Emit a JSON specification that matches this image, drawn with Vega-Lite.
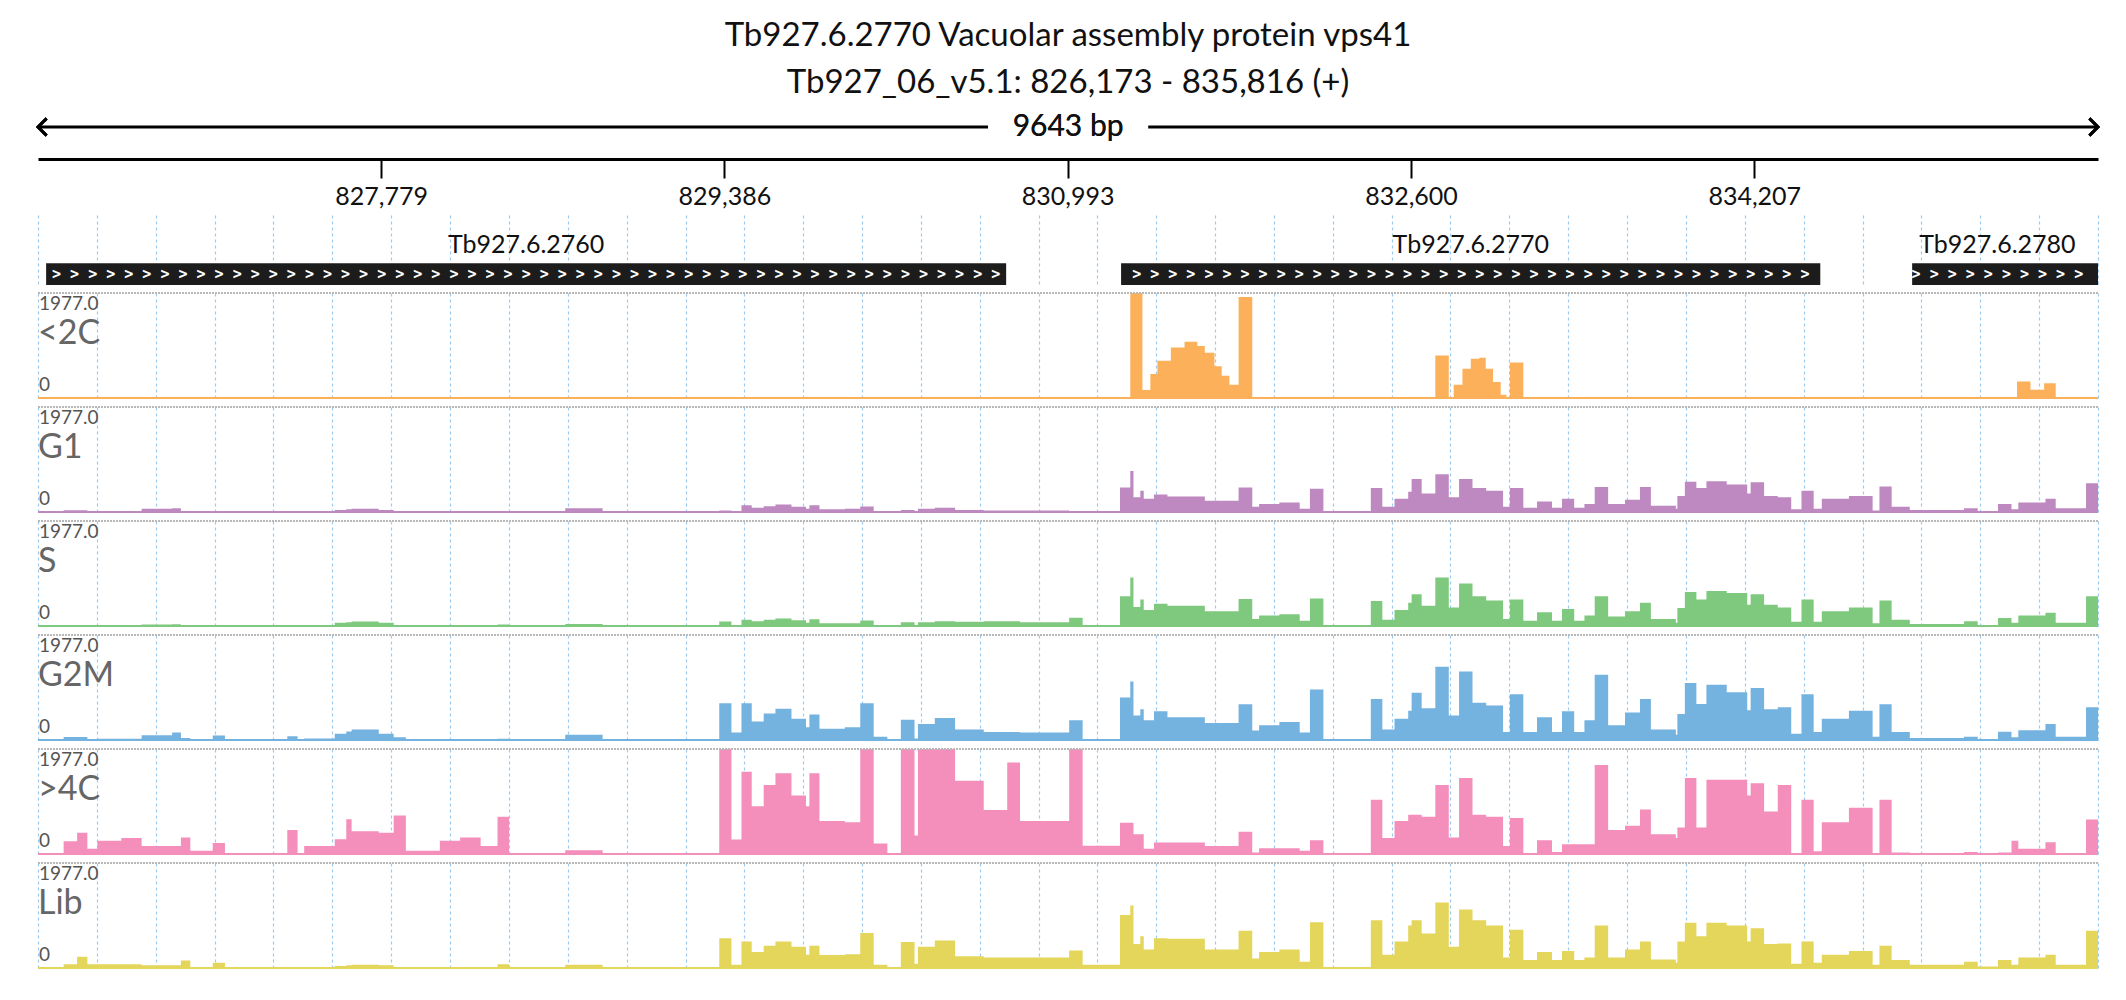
{
  "$schema": "https://vega.github.io/schema/vega-lite/v6.json",
  "background": "white",
  "padding": {"left": 32, "right": 34, "top": 20, "bottom": 10},
  "title": {
    "text": ["Tb927.6.2770  Vacuolar assembly protein vps41", "Tb927_06_v5.1: 826,173 - 835,816 (+)"],
    "fontSize": 33, "font": "Lato", "fontWeight": "normal", "color": "#111", "lineHeight": 47, "anchor": "middle", "offset": 12
  },
  "datasets": {
    "genes": [
      {"g": "Tb927.6.2760", "s": 826211, "e": 830705, "m": 828458, "chev": "> > > > > > > > > > > > > > > > > > > > > > > > > > > > > > > > > > > > > > > > > > > > > > > > > > > > >"},
      {"g": "Tb927.6.2770", "s": 831243, "e": 834516, "m": 832880, "chev": "> > > > > > > > > > > > > > > > > > > > > > > > > > > > > > > > > > > > > >"},
      {"g": "Tb927.6.2780", "s": 834946, "e": 835816, "m": 835345, "chev": "> > > > > > > > > >"}
    ],
    "cov": [
      {"t": "<2C", "lab": true}, {"t": "G1", "lab": true}, {"t": "S", "lab": true},
      {"t": "G2M", "lab": true}, {"t": ">4C", "lab": true}, {"t": "Lib", "lab": true},
      {"p": 826173, "<2C": 0}, {"p": 831286, "<2C": 1977}, {"p": 831343, "<2C": 150}, {"p": 831380, "<2C": 450},
      {"p": 831413, "<2C": 700}, {"p": 831476, "<2C": 950}, {"p": 831540, "<2C": 1060}, {"p": 831600, "<2C": 980},
      {"p": 831635, "<2C": 850}, {"p": 831680, "<2C": 600}, {"p": 831714, "<2C": 420}, {"p": 831750, "<2C": 250},
      {"p": 831778, "<2C": 250}, {"p": 831793, "<2C": 1900}, {"p": 831857, "<2C": 0}, {"p": 832714, "<2C": 800},
      {"p": 832777, "<2C": 0}, {"p": 832800, "<2C": 250}, {"p": 832841, "<2C": 550}, {"p": 832880, "<2C": 740},
      {"p": 832920, "<2C": 760}, {"p": 832950, "<2C": 550}, {"p": 832984, "<2C": 300}, {"p": 833020, "<2C": 60},
      {"p": 833047, "<2C": 0}, {"p": 833063, "<2C": 670}, {"p": 833126, "<2C": 0}, {"p": 835437, "<2C": 310},
      {"p": 835500, "<2C": 155}, {"p": 835564, "<2C": 280}, {"p": 835618, "<2C": 0}, {"p": 835816, "<2C": 0},
      {"p": 826173, "G1": 0, "S": 0, "G2M": 0, ">4C": 0, "Lib": 0},
      {"p": 826293, "G1": 35, "S": 10, "G2M": 55, ">4C": 240, "Lib": 70},
      {"p": 826356, "G1": 35, "S": 10, "G2M": 55, ">4C": 400, "Lib": 210},
      {"p": 826404, "G1": 10, "S": 10, "G2M": 20, ">4C": 100, "Lib": 70},
      {"p": 826451, "G1": 10, "S": 10, "G2M": 25, ">4C": 250, "Lib": 70},
      {"p": 826563, "G1": 10, "S": 10, "G2M": 25, ">4C": 300, "Lib": 70},
      {"p": 826658, "G1": 60, "S": 30, "G2M": 90, ">4C": 150, "Lib": 50},
      {"p": 826801, "G1": 70, "S": 35, "G2M": 140, ">4C": 150, "Lib": 50},
      {"p": 826842, "G1": 20, "S": 20, "G2M": 40, ">4C": 310, "Lib": 140},
      {"p": 826886, "G1": 5, "S": 5, "G2M": 10, ">4C": 60, "Lib": 20},
      {"p": 826991, "G1": 5, "S": 5, "G2M": 83, ">4C": 207, "Lib": 100},
      {"p": 827048, "G1": 0, "S": 0, "G2M": 5, ">4C": 0, "Lib": 5},
      {"p": 827340, "G1": 5, "S": 20, "G2M": 70, ">4C": 450, "Lib": 15},
      {"p": 827388, "G1": 0, "S": 0, "G2M": 5, ">4C": 0, "Lib": 5},
      {"p": 827419, "G1": 10, "S": 20, "G2M": 30, ">4C": 150, "Lib": 20},
      {"p": 827562, "G1": 40, "S": 60, "G2M": 120, ">4C": 280, "Lib": 40},
      {"p": 827616, "G1": 50, "S": 70, "G2M": 160, ">4C": 655, "Lib": 50},
      {"p": 827641, "G1": 60, "S": 85, "G2M": 200, ">4C": 430, "Lib": 60},
      {"p": 827768, "G1": 40, "S": 60, "G2M": 120, ">4C": 400, "Lib": 50},
      {"p": 827838, "G1": 10, "S": 20, "G2M": 50, ">4C": 725, "Lib": 20},
      {"p": 827895, "G1": 5, "S": 10, "G2M": 5, ">4C": 60, "Lib": 10},
      {"p": 828054, "G1": 10, "S": 15, "G2M": 10, ">4C": 250, "Lib": 15},
      {"p": 828149, "G1": 10, "S": 15, "G2M": 10, ">4C": 310, "Lib": 15},
      {"p": 828245, "G1": 5, "S": 10, "G2M": 5, ">4C": 150, "Lib": 10},
      {"p": 828324, "G1": 20, "S": 30, "G2M": 25, ">4C": 700, "Lib": 70},
      {"p": 828378, "G1": 0, "S": 0, "G2M": 5, ">4C": 0, "Lib": 5},
      {"p": 828641, "G1": 70, "S": 40, "G2M": 100, ">4C": 70, "Lib": 60},
      {"p": 828816, "G1": 10, "S": 5, "G2M": 10, ">4C": 5, "Lib": 10},
      {"p": 829070, "G1": 0, "S": 0, "G2M": 0, ">4C": 0, "Lib": 0},
      {"p": 829362, "G1": 30, "S": 85, "G2M": 690, ">4C": 1977, "Lib": 560},
      {"p": 829419, "G1": 10, "S": 20, "G2M": 140, ">4C": 275, "Lib": 60},
      {"p": 829466, "G1": 125, "S": 120, "G2M": 690, ">4C": 1550, "Lib": 500},
      {"p": 829514, "G1": 80, "S": 90, "G2M": 350, ">4C": 900, "Lib": 300},
      {"p": 829570, "G1": 110, "S": 120, "G2M": 500, ">4C": 1300, "Lib": 420},
      {"p": 829625, "G1": 140, "S": 140, "G2M": 590, ">4C": 1520, "Lib": 500},
      {"p": 829700, "G1": 100, "S": 110, "G2M": 400, ">4C": 1100, "Lib": 400},
      {"p": 829768, "G1": 60, "S": 60, "G2M": 240, ">4C": 900, "Lib": 250},
      {"p": 829784, "G1": 125, "S": 125, "G2M": 480, ">4C": 1520, "Lib": 420},
      {"p": 829831, "G1": 50, "S": 50, "G2M": 210, ">4C": 620, "Lib": 245},
      {"p": 829950, "G1": 60, "S": 50, "G2M": 240, ">4C": 600, "Lib": 260},
      {"p": 830022, "G1": 105, "S": 105, "G2M": 690, ">4C": 1977, "Lib": 660},
      {"p": 830085, "G1": 10, "S": 10, "G2M": 60, ">4C": 200, "Lib": 60},
      {"p": 830149, "G1": 0, "S": 0, "G2M": 0, ">4C": 0, "Lib": 0},
      {"p": 830212, "G1": 40, "S": 70, "G2M": 380, ">4C": 1977, "Lib": 490},
      {"p": 830276, "G1": 10, "S": 20, "G2M": 30, ">4C": 350, "Lib": 80},
      {"p": 830292, "G1": 60, "S": 70, "G2M": 300, ">4C": 1977, "Lib": 400},
      {"p": 830371, "G1": 80, "S": 90, "G2M": 415, ">4C": 1977, "Lib": 520},
      {"p": 830466, "G1": 40, "S": 80, "G2M": 200, ">4C": 1380, "Lib": 220},
      {"p": 830600, "G1": 30, "S": 90, "G2M": 150, ">4C": 830, "Lib": 200},
      {"p": 830710, "G1": 30, "S": 90, "G2M": 150, ">4C": 1725, "Lib": 200},
      {"p": 830770, "G1": 30, "S": 70, "G2M": 140, ">4C": 620, "Lib": 200},
      {"p": 831000, "G1": 5, "S": 155, "G2M": 370, ">4C": 1977, "Lib": 330},
      {"p": 831063, "G1": 10, "S": 20, "G2M": 10, ">4C": 155, "Lib": 60},
      {"p": 831238, "G1": 460, "S": 560, "G2M": 800, ">4C": 590, "Lib": 1000},
      {"p": 831286, "G1": 770, "S": 915, "G2M": 1100, ">4C": 590, "Lib": 1175},
      {"p": 831301, "G1": 280, "S": 360, "G2M": 460, ">4C": 370, "Lib": 450},
      {"p": 831333, "G1": 400, "S": 500, "G2M": 580, ">4C": 370, "Lib": 600},
      {"p": 831349, "G1": 250, "S": 300, "G2M": 370, ">4C": 100, "Lib": 350},
      {"p": 831397, "G1": 330, "S": 420, "G2M": 540, ">4C": 215, "Lib": 560},
      {"p": 831460, "G1": 290, "S": 380, "G2M": 430, ">4C": 215, "Lib": 550},
      {"p": 831635, "G1": 210, "S": 280, "G2M": 320, ">4C": 150, "Lib": 350},
      {"p": 831793, "G1": 460, "S": 510, "G2M": 675, ">4C": 420, "Lib": 700},
      {"p": 831857, "G1": 100, "S": 130, "G2M": 180, ">4C": 30, "Lib": 180},
      {"p": 831889, "G1": 150, "S": 200, "G2M": 280, ">4C": 110, "Lib": 300},
      {"p": 831984, "G1": 180, "S": 220, "G2M": 340, ">4C": 110, "Lib": 350},
      {"p": 832079, "G1": 60, "S": 100, "G2M": 140, ">4C": 60, "Lib": 120},
      {"p": 832127, "G1": 440, "S": 520, "G2M": 950, ">4C": 260, "Lib": 860},
      {"p": 832190, "G1": 0, "S": 0, "G2M": 0, ">4C": 0, "Lib": 0},
      {"p": 832412, "G1": 450, "S": 470, "G2M": 770, ">4C": 1020, "Lib": 900},
      {"p": 832466, "G1": 100, "S": 120, "G2M": 200, ">4C": 300, "Lib": 250},
      {"p": 832523, "G1": 250, "S": 300, "G2M": 400, ">4C": 620, "Lib": 500},
      {"p": 832587, "G1": 380, "S": 440, "G2M": 550, ">4C": 740, "Lib": 800},
      {"p": 832603, "G1": 620, "S": 600, "G2M": 890, ">4C": 740, "Lib": 900},
      {"p": 832650, "G1": 350, "S": 380, "G2M": 600, ">4C": 700, "Lib": 650},
      {"p": 832714, "G1": 710, "S": 915, "G2M": 1380, ">4C": 1300, "Lib": 1235},
      {"p": 832777, "G1": 280, "S": 350, "G2M": 460, ">4C": 310, "Lib": 400},
      {"p": 832825, "G1": 620, "S": 800, "G2M": 1290, ">4C": 1430, "Lib": 1100},
      {"p": 832888, "G1": 450, "S": 560, "G2M": 700, ">4C": 740, "Lib": 900},
      {"p": 832952, "G1": 400, "S": 480, "G2M": 650, ">4C": 700, "Lib": 800},
      {"p": 833031, "G1": 100, "S": 130, "G2M": 150, ">4C": 150, "Lib": 200},
      {"p": 833063, "G1": 450, "S": 500, "G2M": 860, ">4C": 680, "Lib": 720},
      {"p": 833126, "G1": 80, "S": 100, "G2M": 150, ">4C": 10, "Lib": 150},
      {"p": 833190, "G1": 200, "S": 260, "G2M": 430, ">4C": 260, "Lib": 300},
      {"p": 833260, "G1": 80, "S": 100, "G2M": 150, ">4C": 40, "Lib": 150},
      {"p": 833307, "G1": 250, "S": 320, "G2M": 540, ">4C": 185, "Lib": 320},
      {"p": 833364, "G1": 80, "S": 100, "G2M": 150, ">4C": 185, "Lib": 150},
      {"p": 833412, "G1": 150, "S": 200, "G2M": 370, ">4C": 185, "Lib": 200},
      {"p": 833460, "G1": 470, "S": 560, "G2M": 1230, ">4C": 1675, "Lib": 800},
      {"p": 833523, "G1": 150, "S": 180, "G2M": 280, ">4C": 450, "Lib": 200},
      {"p": 833602, "G1": 230, "S": 280, "G2M": 520, ">4C": 530, "Lib": 350},
      {"p": 833672, "G1": 470, "S": 440, "G2M": 770, ">4C": 840, "Lib": 500},
      {"p": 833723, "G1": 120, "S": 130, "G2M": 200, ">4C": 370, "Lib": 160},
      {"p": 833840, "G1": 60, "S": 60, "G2M": 100, ">4C": 300, "Lib": 100},
      {"p": 833847, "G1": 300, "S": 340, "G2M": 490, ">4C": 500, "Lib": 500},
      {"p": 833882, "G1": 570, "S": 640, "G2M": 1075, ">4C": 1430, "Lib": 850},
      {"p": 833936, "G1": 450, "S": 500, "G2M": 680, ">4C": 500, "Lib": 600},
      {"p": 833983, "G1": 580, "S": 660, "G2M": 1040, ">4C": 1400, "Lib": 850},
      {"p": 834078, "G1": 520, "S": 620, "G2M": 900, ">4C": 1400, "Lib": 800},
      {"p": 834174, "G1": 350, "S": 400, "G2M": 560, ">4C": 1100, "Lib": 500},
      {"p": 834190, "G1": 560, "S": 600, "G2M": 980, ">4C": 1330, "Lib": 750},
      {"p": 834253, "G1": 300, "S": 400, "G2M": 580, ">4C": 800, "Lib": 450},
      {"p": 834317, "G1": 280, "S": 350, "G2M": 615, ">4C": 1300, "Lib": 460},
      {"p": 834380, "G1": 50, "S": 80, "G2M": 120, ">4C": 0, "Lib": 80},
      {"p": 834428, "G1": 400, "S": 500, "G2M": 860, ">4C": 1020, "Lib": 500},
      {"p": 834485, "G1": 60, "S": 80, "G2M": 150, ">4C": 50, "Lib": 100},
      {"p": 834523, "G1": 250, "S": 280, "G2M": 400, ">4C": 600, "Lib": 250},
      {"p": 834650, "G1": 300, "S": 350, "G2M": 550, ">4C": 870, "Lib": 320},
      {"p": 834761, "G1": 30, "S": 50, "G2M": 60, ">4C": 0, "Lib": 60},
      {"p": 834793, "G1": 480, "S": 480, "G2M": 675, ">4C": 1020, "Lib": 420},
      {"p": 834850, "G1": 100, "S": 120, "G2M": 150, ">4C": 30, "Lib": 150},
      {"p": 834935, "G1": 40, "S": 40, "G2M": 37, ">4C": 20, "Lib": 60},
      {"p": 835189, "G1": 70, "S": 90, "G2M": 60, ">4C": 40, "Lib": 120},
      {"p": 835253, "G1": 20, "S": 20, "G2M": 20, ">4C": 10, "Lib": 30},
      {"p": 835348, "G1": 150, "S": 150, "G2M": 155, ">4C": 30, "Lib": 150},
      {"p": 835411, "G1": 50, "S": 60, "G2M": 50, ">4C": 250, "Lib": 60},
      {"p": 835443, "G1": 180, "S": 200, "G2M": 185, ">4C": 100, "Lib": 200},
      {"p": 835570, "G1": 250, "S": 250, "G2M": 300, ">4C": 220, "Lib": 250},
      {"p": 835618, "G1": 70, "S": 60, "G2M": 60, ">4C": 20, "Lib": 60},
      {"p": 835760, "G1": 540, "S": 560, "G2M": 615, ">4C": 650, "Lib": 700},
      {"p": 835816, "G1": 540, "S": 560, "G2M": 615, ">4C": 650, "Lib": 700}
    ]
  },
  "vconcat": [
    {
      "width": 2060,
      "height": 32,
      "data": {"values": [{"a": 826173, "b": 830620}, {"a": 831370, "b": 835816}]},
      "layer": [
        {
          "mark": {"type": "rule", "color": "black", "strokeWidth": 3},
          "encoding": {
            "x": {"field": "a", "type": "quantitative", "scale": {"domain": [826173, 835816], "nice": false, "zero": false},
              "axis": {"values": [827779, 829386, 830993, 832600, 834207], "format": ",d", "title": null, "grid": false,
                "domainColor": "black", "domainWidth": 3, "tickColor": "black", "tickWidth": 2, "tickSize": 19,
                "labelFontSize": 25, "labelFont": "Lato", "labelColor": "#111", "labelPadding": 6}},
            "x2": {"field": "b"},
            "y": {"datum": 1, "type": "quantitative", "scale": {"domain": [0, 1]}, "axis": null}
          }
        },
        {
          "mark": {"type": "text", "fontSize": 30, "font": "Lato", "fontWeight": "normal", "color": "#111"},
          "encoding": {"x": {"datum": 830995, "type": "quantitative"}, "y": {"datum": 1, "type": "quantitative"}, "text": {"value": "9643 bp"}}
        },
        {
          "mark": {"type": "point", "shape": "M1,-1L0,0L1,1", "filled": false, "stroke": "black", "strokeWidth": 3, "size": 300, "opacity": 1},
          "encoding": {"x": {"datum": 826173, "type": "quantitative"}, "y": {"datum": 1, "type": "quantitative"}}
        },
        {
          "mark": {"type": "point", "shape": "M-1,-1L0,0L-1,1", "filled": false, "stroke": "black", "strokeWidth": 3, "size": 300, "opacity": 1},
          "encoding": {"x": {"datum": 835816, "type": "quantitative"}, "y": {"datum": 1, "type": "quantitative"}}
        }
      ]
    },
    {
      "width": 2060,
      "height": 71,
      "data": {"name": "genes"},
      "layer": [
        {
          "mark": {"type": "rect", "color": "#1c1c1c"},
          "encoding": {
            "x": {"field": "s", "type": "quantitative", "scale": {"domain": [826173, 835816], "nice": false, "zero": false},
              "axis": {"values": [826173, 826449, 826724, 827000, 827275, 827551, 827826, 828102, 828377, 828653, 828928, 829204, 829479, 829755, 830030, 830306, 830581, 830857, 831132, 831408, 831683, 831959, 832234, 832510, 832785, 833061, 833336, 833612, 833887, 834163, 834438, 834714, 834989, 835265, 835540, 835816],
                "grid": true, "gridColor": "#9ccaf0", "gridDash": [3, 3], "gridWidth": 1.2, "labels": false, "ticks": false, "domain": false, "title": null}},
            "x2": {"field": "e"},
            "y": {"datum": 0.014, "type": "quantitative", "scale": {"domain": [0, 1]}, "axis": null},
            "y2": {"datum": 0.32}
          }
        },
        {
          "mark": {"type": "text", "font": "DejaVu Sans Mono", "fontSize": 15, "fontWeight": "bold", "color": "white"},
          "encoding": {"x": {"field": "m", "type": "quantitative"}, "y": {"datum": 0.17, "type": "quantitative"}, "text": {"field": "chev"}}
        },
        {
          "mark": {"type": "text", "font": "Lato", "fontSize": 25, "color": "#111"},
          "encoding": {"x": {"field": "m", "type": "quantitative"}, "y": {"datum": 0.58, "type": "quantitative"}, "text": {"field": "g"}}
        }
      ]
    },
    {
      "data": {"name": "cov"},
      "transform": [
        {"fold": ["<2C", "G1", "S", "G2M", ">4C", "Lib"], "as": ["tk", "v"]},
        {"filter": "datum.lab ? datum.tk == 'G1' : isValid(datum.v)"},
        {"calculate": "datum.lab ? datum.t : datum.tk", "as": "track"}
      ],
      "facet": {"row": {"field": "track", "type": "nominal", "sort": ["<2C", "G1", "S", "G2M", ">4C", "Lib"], "header": null}},
      "spacing": {"row": 7},
      "spec": {
        "width": 2060,
        "height": 105,
        "layer": [
          {
            "transform": [{"filter": "!datum.lab"}],
            "mark": {"type": "area", "interpolate": "step-after", "clip": true, "opacity": 1},
            "encoding": {
              "x": {"field": "p", "type": "quantitative", "scale": {"domain": [826173, 835816], "nice": false, "zero": false},
                "axis": {"values": [826173, 826449, 826724, 827000, 827275, 827551, 827826, 828102, 828377, 828653, 828928, 829204, 829479, 829755, 830030, 830306, 830581, 830857, 831132, 831408, 831683, 831959, 832234, 832510, 832785, 833061, 833336, 833612, 833887, 834163, 834438, 834714, 834989, 835265, 835540, 835816],
                  "grid": true, "gridColor": "#9ccaf0", "gridDash": [3, 3], "gridWidth": 1.2, "labels": false, "ticks": false, "domain": false, "title": null}},
              "y": {"field": "v", "type": "quantitative", "scale": {"domain": [0, 1977], "nice": false}, "axis": null},
              "color": {"field": "track", "type": "nominal", "legend": null,
                "scale": {"domain": ["<2C", "G1", "S", "G2M", ">4C", "Lib"], "range": ["#fdb05a", "#bd89c0", "#7fc97f", "#74b2e0", "#f48fbb", "#e3d65b"]}}
            }
          },
          {
            "transform": [{"filter": "datum.lab"}],
            "mark": {"type": "rule", "color": "#b8b8b8", "strokeDash": [2, 1], "strokeWidth": 2},
            "encoding": {"y": {"datum": 1977, "type": "quantitative"}}
          },
          {
            "transform": [{"filter": "datum.lab"}],
            "mark": {"type": "rule", "strokeWidth": 2},
            "encoding": {"y": {"datum": 0, "type": "quantitative"}, "color": {"field": "track", "type": "nominal", "legend": null}}
          },
          {
            "transform": [{"filter": "datum.lab"}],
            "mark": {"type": "text", "font": "Lato", "fontSize": 19, "color": "#555", "align": "left", "baseline": "top", "dx": 1, "dy": 2},
            "encoding": {"x": {"datum": 826173, "type": "quantitative"}, "y": {"datum": 1977, "type": "quantitative"}, "text": {"value": "1977.0"}}
          },
          {
            "transform": [{"filter": "datum.lab"}],
            "mark": {"type": "text", "font": "Lato", "fontSize": 34, "color": "#666", "align": "left", "baseline": "top", "dx": 0, "dy": 24},
            "encoding": {"x": {"datum": 826173, "type": "quantitative"}, "y": {"datum": 1977, "type": "quantitative"}, "text": {"field": "track"}}
          },
          {
            "transform": [{"filter": "datum.lab"}],
            "mark": {"type": "text", "font": "Lato", "fontSize": 19, "color": "#555", "align": "left", "baseline": "bottom", "dx": 1, "dy": -3},
            "encoding": {"x": {"datum": 826173, "type": "quantitative"}, "y": {"datum": 0, "type": "quantitative"}, "text": {"value": "0"}}
          }
        ]
      }
    }
  ],
  "spacing": 6,
  "config": {"view": {"stroke": null}, "font": "Lato"}
}
